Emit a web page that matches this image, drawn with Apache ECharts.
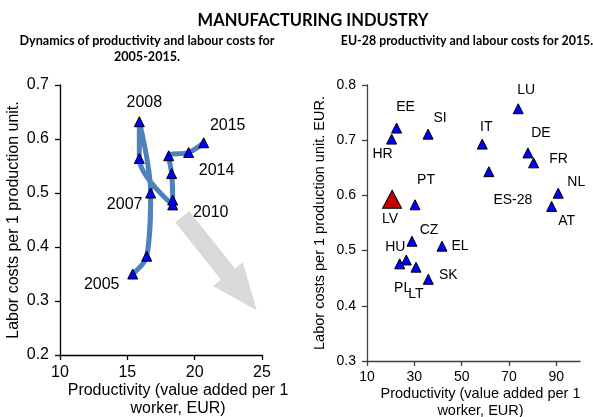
<!DOCTYPE html>
<html>
<head>
<meta charset="utf-8">
<script src="https://cdn.jsdelivr.net/npm/echarts@6/dist/echarts.min.js"></script>
<style>
  html, body { margin: 0; padding: 0; background: #fff; }
  #chart { width: 593px; height: 417px; }
</style>
</head>
<body>
<div id="chart"></div>
<script>
// ---- Left chart: dynamics 2005-2015 ----
const years = ['2005','2006','2007','2008','2009','2010','2011','2012','2013','2014','2015'];
const latvProductivity = [15.4, 16.44, 16.73, 15.89, 15.89, 18.37, 18.37, 18.29, 18.07, 19.55, 20.67];
const latvLabourCosts  = [0.350, 0.383, 0.500, 0.632, 0.564, 0.478, 0.487, 0.536, 0.569, 0.575, 0.593];
const shownYearLabels  = ['2005', '', '2007', '2008', '', '2010', '', '', '', '2014', '2015'];
const yearLabelOffsets = [[-31,11],[0,0],[-26,12],[5,-19],[0,0],[38,8],[0,0],[0,0],[0,0],[28,18],[24,-17]];

// ---- Right chart: EU-28 in 2015 ----
const countries = ['LU','EE','HR','SI','IT','DE','FR','ES-28','NL','AT','LV','PT','CZ','EL','HU','PL','LT','SK'];
const countryProductivity = [73.9, 22.5, 20.4, 35.8, 58.7, 78.0, 80.4, 61.5, 90.8, 88.0, 20.6, 30.3, 29.0, 41.7, 26.6, 23.8, 30.7, 35.9];
const countryLabourCosts  = [0.757, 0.722, 0.702, 0.711, 0.693, 0.677, 0.659, 0.643, 0.604, 0.580, 0.593, 0.583, 0.517, 0.508, 0.483, 0.476, 0.470, 0.448];
const countryLabelOffsets = [[8,-19],[9,-21],[-9,15],[12,-16],[4,-17],[13,-20],[25,-4],[24,28],[18,-11],[15,15],[-2,20],[11,-25],[17,-11],[18,0],[-11,-13],[3,24],[0,27],[20,-4]];
const highlighted = 'LV';

// ---- Axis ticks ----
const leftXTicks = [10, 15, 20, 25];
const leftYTicks = [0.2, 0.3, 0.4, 0.5, 0.6, 0.7];
const rightXTicks = [10, 30, 50, 70, 90];
const rightYTicks = [0.3, 0.4, 0.5, 0.6, 0.7, 0.8];

// Decorative arrow (data coordinates of left chart)
const arrowTail = [19.08, 0.456];
const arrowTip = [24.6, 0.283];

const AX = 'Liberation Sans, Arial, sans-serif';
const chart = echarts.init(document.getElementById('chart'), null, { renderer: 'canvas' });

const leftData = years.map((y, i) => ({
  name: y,
  value: [latvProductivity[i], latvLabourCosts[i]],
  label: { show: !!shownYearLabels[i], formatter: shownYearLabels[i], offset: yearLabelOffsets[i] }
}));

const rightData = countries.map((c, i) => {
  const hi = c === highlighted;
  return {
    name: c,
    value: [countryProductivity[i], countryLabourCosts[i]],
    symbolSize: hi ? [19, 18] : 10,
    itemStyle: hi ? { color: '#C00000' } : undefined,
    label: { show: true, formatter: c, offset: countryLabelOffsets[i] }
  };
});

function axisCommon(color, size, margin) {
  return {
    axisLine: { show: true, onZero: false, lineStyle: { color: color, width: 1.3 } },
    axisTick: { show: true, length: 5, lineStyle: { color: color, width: 1.3 } },
    splitLine: { show: false },
    nameMoveOverlap: false,
    axisLabel: { color: '#000', fontFamily: AX, fontSize: size, margin: margin }
  };
}

const option = {
  animation: false,
  backgroundColor: '#fff',
  title: [
    { text: 'MANUFACTURING INDUSTRY', left: 308, top: 7, textAlign: 'center',
      textStyle: { fontFamily: 'Lato', fontWeight: 'bold', fontSize: 16.5, color: '#000' } },
    { text: 'Dynamics of productivity and labour costs for\n2005-2015.', left: 142, top: 28, textAlign: 'center',
      textStyle: { fontFamily: 'Lato', fontWeight: 'bold', fontSize: 12.6, lineHeight: 16, color: '#000', align: 'center' } },
    { text: 'EU-28 productivity and labour costs for 2015.', left: 462, top: 28, textAlign: 'center',
      textStyle: { fontFamily: 'Lato', fontWeight: 'bold', fontSize: 12.4, lineHeight: 16, color: '#000' } }
  ],
  grid: [
    { left: 60, top: 85, width: 202, height: 270, outerBoundsMode: 'none', containLabel: false },
    { left: 367, top: 85, width: 213, height: 276, outerBoundsMode: 'none', containLabel: false }
  ],
  xAxis: [
    Object.assign(axisCommon('#000', 16, 10), {
      gridIndex: 0, type: 'value', min: 10, max: 25, interval: 5,
      name: 'Productivity (value added per 1\nworker, EUR)', nameLocation: 'middle', nameGap: 27,
      nameTextStyle: { fontFamily: AX, fontSize: 16, color: '#000', lineHeight: 18, verticalAlign: 'top', padding: [0, 0, 0, 34] }
    }),
    Object.assign(axisCommon('#404040', 14, 9), {
      gridIndex: 1, type: 'value', min: 10, max: 100, interval: 20,
      name: 'Productivity (value added per 1\nworker, EUR)', nameLocation: 'middle', nameGap: 24,
      nameTextStyle: { fontFamily: AX, fontSize: 14.5, color: '#000', lineHeight: 17, verticalAlign: 'top', padding: [0, 0, 0, 14] }
    })
  ],
  yAxis: [
    Object.assign(axisCommon('#000', 16, 11), {
      gridIndex: 0, type: 'value', min: 0.2, max: 0.7, interval: 0.1,
      name: 'Labor costs per 1 production unit.', nameLocation: 'middle', nameGap: 38,
      nameTextStyle: { fontFamily: AX, fontSize: 16, color: '#000' }
    }),
    Object.assign(axisCommon('#404040', 14, 11), {
      gridIndex: 1, type: 'value', min: 0.3, max: 0.8, interval: 0.1,
      name: 'Labor costs per 1 production unit. EUR.', nameLocation: 'middle', nameGap: 40,
      nameTextStyle: { fontFamily: AX, fontSize: 14.5, color: '#000' }
    })
  ],
  series: [
    {
      type: 'line', xAxisIndex: 0, yAxisIndex: 0,
      data: leftData, smooth: 0.35,
      symbol: 'triangle', symbolSize: 10,
      lineStyle: { color: '#4F81BD', width: 5 },
      itemStyle: { color: '#0000FF', borderColor: '#000', borderWidth: 1 },
      label: { position: 'inside', fontFamily: AX, fontSize: 16, color: '#000' },
      z: 3
    },
    {
      type: 'scatter', xAxisIndex: 1, yAxisIndex: 1,
      data: rightData,
      symbol: 'triangle', symbolSize: 10,
      itemStyle: { color: '#0000FF', borderColor: '#000', borderWidth: 1, opacity: 1 },
      label: { position: 'inside', fontFamily: AX, fontSize: 14, color: '#000' }
    }
  ]
};

option.xAxis[0].axisLabel.formatter = v => String(v);
option.yAxis[0].axisLabel.formatter = v => v.toFixed(1);
option.yAxis[1].axisLabel.formatter = v => v.toFixed(1);
option.xAxis[1].axisLabel.customValues = rightXTicks;
option.xAxis[1].axisTick.customValues = rightXTicks;
option.xAxis[1].axisLabel.formatter = v => String(v);

chart.setOption(option);

// Build the decorative arrow from data coordinates
function drawArrow() {
  const a = chart.convertToPixel({ gridIndex: 0 }, arrowTail);
  const b = chart.convertToPixel({ gridIndex: 0 }, arrowTip);
  const dx = b[0] - a[0], dy = b[1] - a[1];
  const len = Math.sqrt(dx * dx + dy * dy);
  const ux = dx / len, uy = dy / len;
  const nx = -uy, ny = ux;
  const bodyHalf = 9, headHalf = 19, headLen = 46;
  const hx = b[0] - ux * headLen, hy = b[1] - uy * headLen;
  const pts = [
    [a[0] + nx * bodyHalf, a[1] + ny * bodyHalf],
    [hx + nx * bodyHalf, hy + ny * bodyHalf],
    [hx + nx * headHalf, hy + ny * headHalf],
    [b[0], b[1]],
    [hx - nx * headHalf, hy - ny * headHalf],
    [hx - nx * bodyHalf, hy - ny * bodyHalf],
    [a[0] - nx * bodyHalf, a[1] - ny * bodyHalf]
  ];
  chart.setOption({
    graphic: [{ type: 'polygon', shape: { points: pts }, style: { fill: '#D9D9D9' }, z: 0, silent: true }]
  });
}
drawArrow();
</script>
</body>
</html>
